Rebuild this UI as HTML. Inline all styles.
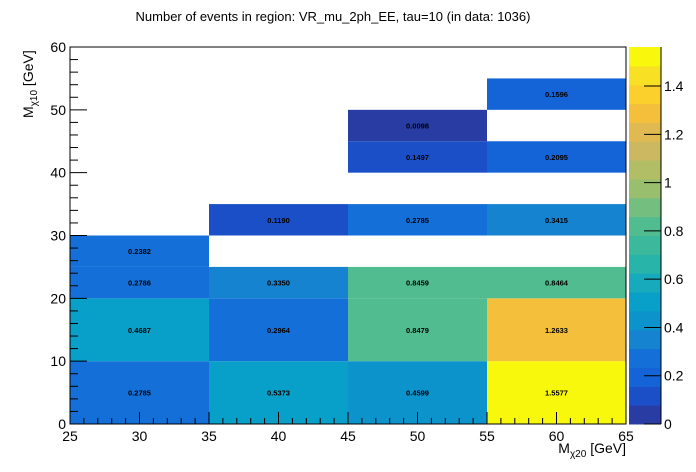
<!DOCTYPE html>
<html><head><meta charset="utf-8"><style>
body{margin:0;background:#fff;}
svg{display:block;font-family:"Liberation Sans",sans-serif;}
</style></head><body>
<svg id="c" width="696" height="472"></svg>
<script>
const xEdges=[25,35,45,55,65];
const cellsX=[30,40,50,60, 30,40,50,60, 30,40,50,60, 30, 40,50,60, 50,60, 50, 60];
const cellsYlo=[0,0,0,0, 10,10,10,10, 20,20,20,20, 25, 30,30,30, 40,40, 45, 50];
const cellsYhi=[10,10,10,10, 20,20,20,20, 25,25,25,25, 30, 35,35,35, 45,45, 50, 55];
const cellsV=[0.2785,0.5373,0.4599,1.5577, 0.4687,0.2964,0.8479,1.2633, 0.2786,0.3350,0.8459,0.8464, 0.2382, 0.1190,0.2785,0.3415, 0.1497,0.2095, 0.0098, 0.1596];
const xTicks=[25,30,35,40,45,50,55,60,65];
const yTicks=[0,10,20,30,40,50,60];
const zTicks=[0,0.2,0.4,0.6,0.8,1,1.2,1.4];
const zMax=1.5617;
const L=70,R=626,T=47,B=424;
const sx=v=>L+(v-25)/40*(R-L);
const sy=v=>B-v/60*(B-T);
const sz=v=>B-v/zMax*(B-T);
const NS="http://www.w3.org/2000/svg";
const svg=document.getElementById('c');
function mk(tag,attrs,parent){const e=document.createElementNS(NS,tag);for(const k in attrs)e.setAttribute(k,attrs[k]);(parent||svg).appendChild(e);return e;}
const bandColors=['#283ca4','#1a4fc8','#1464d8','#1470d8','#1683d0','#0c93cc','#08a0c8','#16aabc','#28b4a8','#3cb89c','#50bc90','#74be80','#98be6e','#b2be66','#ccb860','#e0ba50','#f4c03c','#fcd02c','#f8e024','#f8f80c'];
const NB=20;
function colorFor(v){let b=Math.floor(v/zMax*NB);b=Math.min(NB-1,Math.max(0,b));return bandColors[b];}
for(let i=0;i<cellsV.length;i++){
  const x0=sx(cellsX[i]-5),x1=sx(cellsX[i]+5),y0=sy(cellsYhi[i]),y1=sy(cellsYlo[i]);
  const r=mk('rect',{x:x0,y:y0,width:x1-x0,height:y1-y0,fill:colorFor(cellsV[i])});
  
  
  const t=mk('text',{x:(x0+x1)/2,y:(y0+y1)/2+3,'text-anchor':'middle','font-size':'7.5','font-weight':'bold',fill:'#000'});
  t.textContent=cellsV[i].toFixed(4);
  
  
}
const fr=mk('rect',{x:L,y:T,width:R-L,height:B-T,fill:'none',stroke:'#000','stroke-width':1});


for(let v=25;v<=65;v++){const major=v%5===0;mk('line',{x1:sx(v),x2:sx(v),y1:B,y2:B-(major?12:6),stroke:'#000'});}
xTicks.forEach(v=>{const t=mk('text',{x:sx(v),y:B+17,'text-anchor':'middle','font-size':'14'});t.textContent=v;

});
for(let v=0;v<=60;v+=2){const major=v%10===0;mk('line',{x1:L,x2:L+(major?17:8),y1:sy(v),y2:sy(v),stroke:'#000'});}
yTicks.forEach(v=>{const t=mk('text',{x:L-4,y:sy(v)+5,'text-anchor':'end','font-size':'14'});t.textContent=v;

});
const CL=629,CR=661;
for(let b=0;b<NB;b++){const y0=sz((b+1)*zMax/NB),y1=sz(b*zMax/NB);
const r=mk('rect',{x:CL,y:y0,width:CR-CL,height:y1-y0+0.5,fill:bandColors[b]});

}
mk('line',{x1:CR,x2:CR,y1:T,y2:B,stroke:'#000'});
zTicks.forEach(v=>{mk('line',{x1:CR-17,x2:CR,y1:sz(v),y2:sz(v),stroke:'#000'});
const t=mk('text',{x:CR+3,y:sz(v)+5,'font-size':'14'});t.textContent=String(v);

});
</script>
<div style="position:absolute;left:0;top:0;width:696px;height:472px;pointer-events:none;">
<div style="position:absolute;left:0;width:666px;top:9px;text-align:center;font:13px 'Liberation Sans',sans-serif;">Number of events in region: VR_mu_2ph_EE, tau=10 (in data: 1036)</div>
<div style="position:absolute;right:70px;top:440px;font:14px 'Liberation Sans',sans-serif;">M<sub style="font-size:10px">χ20</sub> [GeV]</div>
<div style="position:absolute;left:20px;top:118px;transform:rotate(-90deg);transform-origin:left top;font:14px 'Liberation Sans',sans-serif;white-space:nowrap;">M<sub style="font-size:10px">χ10</sub> [GeV]</div>
</div>
</body></html>
